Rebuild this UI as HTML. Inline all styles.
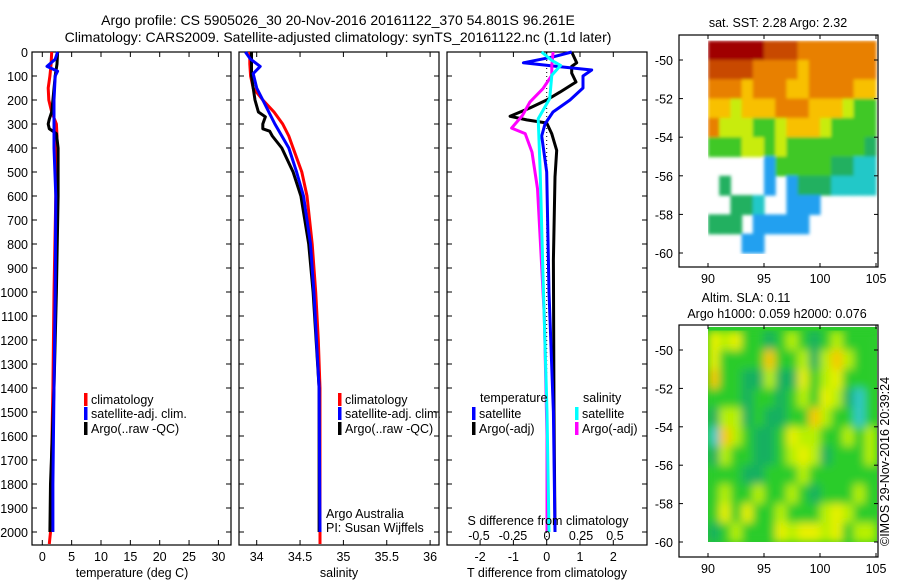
<!DOCTYPE html>
<html><head><meta charset="utf-8">
<style>
html,body{margin:0;padding:0;background:#fff;}
svg{display:block;font-family:"Liberation Sans",sans-serif;}
text{font-size:12.5px;fill:#000;}
</style></head>
<body>
<svg id="fig" width="900" height="580" viewBox="0 0 900 580" xmlns="http://www.w3.org/2000/svg">
<defs>
<filter id="blur2" x="0" y="0" width="1" height="1"><feGaussianBlur stdDeviation="1.5"/></filter>
<filter id="blur4" x="0" y="0" width="1" height="1"><feGaussianBlur stdDeviation="4.5"/></filter>
<clipPath id="clip1"><rect x="708" y="37" width="169" height="221"/></clipPath>
<clipPath id="clip2"><rect x="708" y="327" width="169" height="215"/></clipPath>
</defs>
<rect width="900" height="580" fill="#fff"/>
<rect x="708" y="327" width="169" height="215" fill="#2ccc2c"/>
<text x="338" y="25" text-anchor="middle" style="font-size:14px">Argo profile: CS 5905026_30 20-Nov-2016 20161122_370 54.801S 96.261E</text>
<text x="338" y="42" text-anchor="middle" style="font-size:14px">Climatology: CARS2009. Satellite-adjusted climatology: synTS_20161122.nc (1.1d later)</text>
<g id="plots"></g>
</svg>
<script>
// ---- Depth axis ----
const depthTicks = [0,100,200,300,400,500,600,700,800,900,1000,1100,1200,1300,1400,1500,1600,1700,1800,1900,2000];
// ---- Temperature panel ----
const tempTicks = [0,5,10,15,20,25,30];
const climTDepth = [0,50,100,150,200,250,300,350,400,600,1000,1400,1800,2000,2050];
const climTVal   = [1.6,1.5,1.3,1.0,1.1,1.6,2.4,2.5,2.4,2.3,2.0,1.8,1.5,1.4,1.2];
const satTDepth  = [0,30,60,80,100,200,300,400,600,1000,1400,1800,2000];
const satTVal    = [2.6,2.2,0.8,2.6,2.2,2.0,2.0,2.0,2.3,2.2,2.0,1.8,1.8];
const argoTDepth = [0,50,100,200,250,280,300,320,340,400,600,1000,1400,1600,1800,2000];
const argoTVal   = [2.6,2.5,2.2,1.8,1.6,1.2,1.0,1.2,2.4,2.7,2.7,2.4,2.0,1.7,1.4,1.3];
// ---- Salinity panel ----
const salTicks = [34,34.5,35,35.5,36];
const salTickLabels = ["34","34.5","35","35.5","36"];
const climSDepth = [0,50,100,150,200,250,300,350,400,500,600,800,1000,1200,1400,2000,2050];
const climSVal   = [33.92,33.92,33.93,33.96,34.07,34.20,34.30,34.37,34.42,34.52,34.58,34.64,34.68,34.71,34.73,34.73,34.73];
const satSDepth  = [0,30,60,90,150,200,250,300,400,500,600,800,1000,1400,2000];
const satSVal    = [33.87,33.93,34.04,33.96,34.0,34.07,34.14,34.21,34.37,34.46,34.54,34.62,34.66,34.72,34.73];
const argoSDepth = [0,100,150,200,250,270,300,320,330,350,400,500,600,800,1000,1400,2000];
const argoSVal   = [33.94,33.94,33.96,33.98,34.02,34.10,34.07,34.07,34.15,34.18,34.29,34.42,34.51,34.60,34.65,34.72,34.72];
// ---- Difference panel ----
const tDiffTicks = [-2,-1,0,1,2];
const sDiffTicks = [-0.5,-0.25,0,0.25,0.5];
const sDiffTickLabels = ["-0.5","-0.25","0","0.25","0.5"];
const satTdDepth = [0,20,45,60,75,100,150,200,250,300,350,500,1000,1500,2000];
const satTdVal   = [0.75,0.2,-0.7,0.3,1.35,1.09,1.09,0.7,0.19,-0.05,-0.15,0.0,0.07,0.2,0.25];
const argoTdDepth = [0,45,60,88,125,167,200,233,268,283,296,340,410,521,867,1500,2000];
const argoTdVal   = [0.75,0.9,0.75,0.75,0.88,0.4,0.0,-0.5,-1.1,-0.6,0.0,0.15,0.3,0.25,0.2,0.22,0.25];
const satSdDepth = [0,35,56,97,194,278,500,917,1500,2000];
const satSdVal   = [-0.04,0.035,0.1,0.035,0.02,-0.065,-0.05,-0.03,0.0,0.015];
const argoSdDepth = [0,56,97,153,208,264,317,340,417,569,778,1100,1600,2000];
const argoSdVal   = [0.045,0.035,0.035,-0.03,-0.125,-0.18,-0.26,-0.16,-0.11,-0.07,-0.05,-0.02,0.0,0.0];
// ---- Maps ----
const lonTicks = [90,95,100,105];
const latTicks = [-50,-52,-54,-56,-58,-60];
// SST colour index per 1-degree cell, rows from lat -49 southward, cols lon 90..104 (-1 = no data)
const sstGrid = [
[10,10,10,10,10,9,9,9,8,8,8,8,8,8,8],
[9,9,9,9,8,8,8,8,7,8,8,8,8,8,8],
[8,8,8,7,8,8,8,7,7,8,8,8,8,7,7],
[7,7,6,7,7,7,8,8,8,7,7,7,6,5,5],
[8,6,6,6,5,5,6,7,7,7,6,5,5,5,5],
[5,5,5,6,6,5,6,5,5,5,5,5,5,5,4],
[-1,-1,-1,-1,-1,2,5,5,5,5,5,4,4,3,3],
[-1,4,-1,-1,-1,2,-1,2,4,4,4,3,3,3,3],
[-1,-1,4,4,3,-1,-1,2,2,2,-1,-1,-1,-1,-1],
[4,4,4,-1,2,2,2,2,2,-1,-1,-1,-1,-1,-1],
[-1,-1,-1,2,2,-1,-1,-1,-1,-1,-1,-1,-1,-1,-1]
];
const slaGrid = [
[7,6,7,5,5,4,5,6,5,4,5,6,5,5,5],
[7,5,5,5,5,8,5,5,6,4,6,8,6,5,5],
[8,5,5,4,4,6,4,4,7,5,6,7,5,5,5],
[5,5,5,4,5,5,4,5,6,5,7,6,4,3,5],
[4,6,6,4,5,4,4,5,5,8,6,5,5,3,5],
[3,8,6,5,4,4,5,7,6,6,5,5,6,5,6],
[4,6,5,5,4,4,5,6,7,6,4,5,5,5,6],
[5,5,5,4,4,5,5,5,6,5,5,5,5,5,5],
[5,6,5,5,6,5,5,6,5,4,5,5,5,6,5],
[5,7,5,7,5,5,6,5,5,5,6,7,6,5,5],
[4,5,6,5,5,5,7,6,7,7,6,7,5,6,6]
];
const sstColors = ["#000080","#0050e0","#20a0f0","#20c8c8","#20b060","#40c828","#c8ec10","#f8c000","#e88000","#c84800","#a00000"];
const slaColors = ["#0000a0","#0050e0","#20a0f0","#30c8c8","#18b060","#2ccc2c","#b8f000","#e8f000","#f8c800","#f08000"];

const NS="http://www.w3.org/2000/svg";
const root=document.getElementById('plots');
function mk(tag,attrs,parent){const e=document.createElementNS(NS,tag);for(const k in attrs)e.setAttribute(k,attrs[k]);(parent||root).appendChild(e);return e;}
function txt(x,y,s,anchor,parent,extra){const t=mk('text',Object.assign({x:x,y:y,'text-anchor':anchor||'start'},extra||{}),parent);t.textContent=s;return t;}

const TOP=52, BOT=545;
function yD(d){return TOP + d*0.24;}
function line(xs,ds,xf,color,name,parent){
  const pts=xs.map((v,i)=>xf(v).toFixed(1)+','+yD(ds[i]).toFixed(1)).join(' ');
  const p=mk('polyline',{points:pts,fill:'none',stroke:color,'stroke-width':3,'stroke-linejoin':'round'},parent);
  
  
  return p;
}
function panel(name){
  const g=mk('g',{});
  
  
  return g;
}
function frame(g,x0,x1){
  mk('rect',{x:x0,y:TOP,width:x1-x0,height:BOT-TOP,fill:'none',stroke:'#000','stroke-width':1.2},g);
  depthTicks.forEach(d=>{
    mk('line',{x1:x0,x2:x0+5,y1:yD(d),y2:yD(d),stroke:'#000'},g);
    mk('line',{x1:x1-5,x2:x1,y1:yD(d),y2:yD(d),stroke:'#000'},g);
  });
}
function xticks(g,vals,labels,xf){
  vals.forEach((v,i)=>{
    const x=xf(v);
    mk('line',{x1:x,x2:x,y1:BOT,y2:BOT-5,stroke:'#000'},g);
    mk('line',{x1:x,x2:x,y1:TOP,y2:TOP+5,stroke:'#000'},g);
    const t=txt(x,561,labels[i],'middle',g);
    
    
  });
}
function legendEntry(g,x,y,color,label){
  const r=mk('rect',{x:x,y:y-6,width:3.5,height:13,fill:color},g);
  
  
  const t=txt(x+7,y+5,label,'start',g);
  
  
}

// Depth labels
const ylab=panel('depth-axis');
depthTicks.forEach(d=>{
  const t=txt(28,yD(d)+5,String(d),'end',ylab);
  
  
});

// Temperature panel
const P1x0=32,P1x1=231;
const xT=v=>42.3+v*5.87;
const g1=panel('temperature-panel');
frame(g1,P1x0,P1x1);
xticks(g1,tempTicks,tempTicks.map(String),xT);
line(climTVal,climTDepth,xT,'#ff0000','climatology-temperature-line',g1);
line(argoTVal,argoTDepth,xT,'#000000','argo-temperature-line',g1);
line(satTVal,satTDepth,xT,'#0000ff','satellite-temperature-line',g1);
legendEntry(g1,84,399,'#ff0000','climatology');
legendEntry(g1,84,413,'#0000ff','satellite-adj. clim.');
legendEntry(g1,84,428,'#000000','Argo(..raw -QC)');
let t=txt(132,577,'temperature (deg C)','middle',g1);



// Salinity panel
const P2x0=239,P2x1=439;
const xS=v=>256.7+(v-34)*86.7;
const g2=panel('salinity-panel');
frame(g2,P2x0,P2x1);
xticks(g2,salTicks,salTickLabels,xS);
line(climSVal,climSDepth,xS,'#ff0000','climatology-salinity-line',g2);
line(argoSVal,argoSDepth,xS,'#000000','argo-salinity-line',g2);
line(satSVal,satSDepth,xS,'#0000ff','satellite-salinity-line',g2);
legendEntry(g2,338,399,'#ff0000','climatology');
legendEntry(g2,338,413,'#0000ff','satellite-adj. clim.');
legendEntry(g2,338,428,'#000000','Argo(..raw -QC)');
t=txt(326,518,'Argo Australia','start',g2);


t=txt(326,532,'PI: Susan Wijffels','start',g2);


t=txt(339,577,'salinity','middle',g2);



// Difference panel
const P3x0=447,P3x1=647;
const xTd=v=>546.7+v*33.3;
const xSd=v=>547+v*136;
const g3=panel('difference-panel');
frame(g3,P3x0,P3x1);
xticks(g3,tDiffTicks,tDiffTicks.map(String),xTd);
mk('line',{x1:xTd(0),x2:xTd(0),y1:TOP,y2:BOT,stroke:'#000','stroke-dasharray':'1,3','stroke-width':1},g3);
line(argoTdVal,argoTdDepth,xTd,'#000000','argo-temperature-diff-line',g3);
line(satTdVal,satTdDepth,xTd,'#0000ff','satellite-temperature-diff-line',g3);
line(argoSdVal,argoSdDepth,xSd,'#ff00ff','argo-salinity-diff-line',g3);
line(satSdVal,satSdDepth,xSd,'#00ffff','satellite-salinity-diff-line',g3);
t=txt(480,402,'temperature','start',g3);


t=txt(583,402,'salinity','start',g3);


legendEntry(g3,472,413,'#0000ff','satellite');
legendEntry(g3,472,428,'#000000','Argo(-adj)');
legendEntry(g3,575,413,'#00ffff','satellite');
legendEntry(g3,575,428,'#ff00ff','Argo(-adj)');
t=txt(548,525,'S difference from climatology','middle',g3);


sDiffTicks.forEach((v,i)=>{
  const l=txt(xSd(v),540,sDiffTickLabels[i],'middle',g3);
  
  
});
t=txt(547,577,'T difference from climatology','middle',g3);



// Maps
function drawMap(grid,colors,box,latY0,latPx,title,name,filt,clip){
  const g=panel(name);
  const lonX=v=>708+(v-90)*11.2;
  const latY=v=>latY0+(-50-v)*latPx;
  const cg=mk('g',{'clip-path':'url(#'+clip+')'},g);
  const ig=mk('g',{filter:'url(#'+filt+')'},cg);
  
  
  grid.forEach((row,r)=>{
    row.forEach((c,k)=>{
      if(c<0)return;
      const x0=lonX(90+k), x1=lonX(91+k);
      const y0=Math.max(latY(-49-r),box.y0+2), y1=latY(-50-r);
      const rc=mk('rect',{x:x0.toFixed(1),y:y0.toFixed(1),width:(x1-x0+0.6).toFixed(1),height:(y1-y0+0.6).toFixed(1),fill:colors[c]},ig);
      
      
    });
  });
  mk('rect',{x:box.x0,y:box.y0,width:box.x1-box.x0,height:box.y1-box.y0,fill:'none',stroke:'#000','stroke-width':1.2},g);
  lonTicks.forEach(v=>{
    const x=lonX(v);
    mk('line',{x1:x,x2:x,y1:box.y1,y2:box.y1-4,stroke:'#000'},g);
    mk('line',{x1:x,x2:x,y1:box.y0,y2:box.y0+4,stroke:'#000'},g);
    const l=txt(x,box.y1+16,String(v),'middle',g);
    
    
  });
  latTicks.forEach(v=>{
    const y=latY(v);
    mk('line',{x1:box.x0,x2:box.x0+4,y1:y,y2:y,stroke:'#000'},g);
    mk('line',{x1:box.x1-4,x2:box.x1,y1:y,y2:y,stroke:'#000'},g);
    const l=txt(673,y+5,String(v),'end',g);
    
    
  });
  title.forEach(tt=>{
    const l=txt(tt[0],tt[1],tt[2],'middle',g);
    
    
  });
}
drawMap(sstGrid,sstColors,{x0:679,x1:878,y0:35,y1:267},60,19.3,[[778,27,'sat. SST: 2.28 Argo: 2.32']],'sst-map','blur2','clip1');
drawMap(slaGrid,slaColors,{x0:679,x1:878,y0:325,y1:557},350,19.2,[[746,302,'Altim. SLA: 0.11'],[777,318,'Argo h1000: 0.059 h2000: 0.076']],'sla-map','blur4','clip2');
t=txt(0,0,'©IMOS 29-Nov-2016 20:39:24','start',null,{transform:'translate(889,546) rotate(-90)'});


</script>
</body></html>
